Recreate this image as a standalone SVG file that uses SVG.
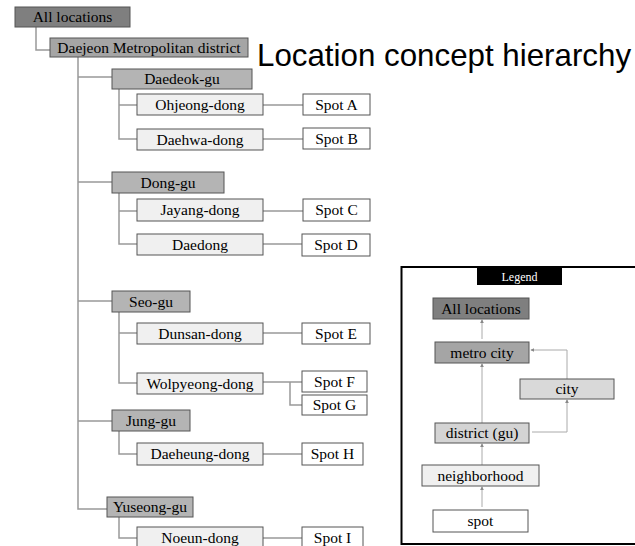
<svg xmlns="http://www.w3.org/2000/svg" width="635" height="546" viewBox="0 0 635 546">
  <defs>
    <style>
      .box { stroke: #555; stroke-width: 1; }
      .l0 { fill: #7f7f7f; }
      .l1 { fill: #a5a5a5; }
      .l2 { fill: #b4b4b4; }
      .l3 { fill: #f0f0f0; }
      .l4 { fill: #ffffff; }
      .city { fill: #d9d9d9; }
      .dist { fill: #d4d4d4; }
      .t { font-family: "Liberation Serif", "Times New Roman", serif; font-size: 15.5px; fill: #000; text-anchor: middle; }
      .wire { fill: none; stroke: #999; stroke-width: 1.5; }
      .arrow { fill: none; stroke: #aaa; stroke-width: 1; marker-end: url(#ah); }
    </style>
    <marker id="ah" viewBox="0 0 6 6" refX="5" refY="3" markerWidth="4" markerHeight="4" orient="auto">
      <path d="M0,0 L6,3 L0,6 z" fill="#888"/>
    </marker>
  </defs>

  <rect width="635" height="546" fill="#fff"/>

  <!-- tree connectors -->
  <g id="connectors">
    <path class="wire" d="M36,27 V50 H50"/>
    <path class="wire" d="M78,57 V509 H107"/>
    <path class="wire" d="M78,77 H112 M78,182 H112 M78,301 H112 M78,421 H112"/>
    <!-- Daedeok-gu -->
    <path class="wire" d="M119,89 V139 H137 M119,105 H137"/>
    <path class="wire" d="M263,105 H303 M263,139 H303"/>
    <!-- Dong-gu -->
    <path class="wire" d="M119,193 V244 H137 M119,211 H137"/>
    <path class="wire" d="M263,211 H303 M263,244 H302"/>
    <!-- Seo-gu -->
    <path class="wire" d="M119,312 V383 H137 M119,333 H137"/>
    <path class="wire" d="M263,333 H302 M263,382 H302 M290,382 V405 H302"/>
    <!-- Jung-gu -->
    <path class="wire" d="M119,431 V454 H137 M263,454 H302"/>
    <!-- Yuseong-gu -->
    <path class="wire" d="M119,517 V538 H137 M263,538 H302"/>
  </g>

  <g id="all-locations"><rect class="box l0" x="15" y="7" width="115" height="20"/><text class="t" x="72.5" y="22">All locations</text></g>
  <g id="daejeon"><rect class="box l1" x="50" y="38" width="198" height="19"/><text class="t" x="149" y="53">Daejeon Metropolitan district</text></g>

  <g id="daedeok-gu"><rect class="box l2" x="112" y="69" width="140" height="20"/><text class="t" x="182" y="84">Daedeok-gu</text></g>
  <g id="ohjeong-dong"><rect class="box l3" x="137" y="94" width="126" height="21"/><text class="t" x="200" y="110">Ohjeong-dong</text></g>
  <g id="daehwa-dong"><rect class="box l3" x="137" y="129" width="126" height="21"/><text class="t" x="200" y="145">Daehwa-dong</text></g>
  <g id="spot-a"><rect class="box l4" x="303" y="94" width="67" height="21"/><text class="t" x="336.5" y="110">Spot A</text></g>
  <g id="spot-b"><rect class="box l4" x="303" y="128" width="67" height="21"/><text class="t" x="336.5" y="144">Spot B</text></g>

  <g id="dong-gu"><rect class="box l2" x="112" y="172" width="112" height="21"/><text class="t" x="168" y="188">Dong-gu</text></g>
  <g id="jayang-dong"><rect class="box l3" x="137" y="199" width="126" height="22"/><text class="t" x="200" y="215">Jayang-dong</text></g>
  <g id="daedong"><rect class="box l3" x="137" y="234" width="126" height="21"/><text class="t" x="200" y="250">Daedong</text></g>
  <g id="spot-c"><rect class="box l4" x="303" y="199" width="67" height="22"/><text class="t" x="336.5" y="215">Spot C</text></g>
  <g id="spot-d"><rect class="box l4" x="302" y="234" width="68" height="22"/><text class="t" x="336" y="250">Spot D</text></g>

  <g id="seo-gu"><rect class="box l2" x="112" y="291" width="78" height="21"/><text class="t" x="151" y="307">Seo-gu</text></g>
  <g id="dunsan-dong"><rect class="box l3" x="137" y="323" width="126" height="21"/><text class="t" x="200" y="339">Dunsan-dong</text></g>
  <g id="wolpyeong-dong"><rect class="box l3" x="137" y="373" width="126" height="21"/><text class="t" x="200" y="389">Wolpyeong-dong</text></g>
  <g id="spot-e"><rect class="box l4" x="302" y="323" width="68" height="21"/><text class="t" x="336" y="339">Spot E</text></g>
  <g id="spot-f"><rect class="box l4" x="302" y="371" width="65" height="21"/><text class="t" x="334.5" y="387">Spot F</text></g>
  <g id="spot-g"><rect class="box l4" x="302" y="395" width="65" height="20"/><text class="t" x="334.5" y="410">Spot G</text></g>

  <g id="jung-gu"><rect class="box l2" x="112" y="410" width="78" height="21"/><text class="t" x="151" y="426">Jung-gu</text></g>
  <g id="daeheung-dong"><rect class="box l3" x="137" y="443" width="126" height="22"/><text class="t" x="200" y="459">Daeheung-dong</text></g>
  <g id="spot-h"><rect class="box l4" x="302" y="443" width="61" height="22"/><text class="t" x="332.5" y="459">Spot H</text></g>

  <g id="yuseong-gu"><rect class="box l2" x="107" y="497" width="86" height="20"/><text class="t" x="150" y="512">Yuseong-gu</text></g>
  <g id="noeun-dong"><rect class="box l3" x="137" y="527" width="126" height="22"/><text class="t" x="200" y="543">Noeun-dong</text></g>
  <g id="spot-i"><rect class="box l4" x="302" y="527" width="61" height="22"/><text class="t" x="332.5" y="543">Spot I</text></g>

  <g id="title"><text x="257" y="66" font-family="Liberation Sans, Arial, sans-serif" font-size="31.3" fill="#000">Location concept hierarchy</text></g>

  <!-- legend panel: frame runs off the right edge -->
  <g id="legend">
    <path d="M640,267 H401.5 V544 H640" fill="#fff" stroke="#000" stroke-width="2"/>
    <rect x="477" y="267" width="85" height="18" fill="#000"/>
    <text x="519.5" y="280.5" font-family="Liberation Serif, serif" font-size="12" fill="#fff" text-anchor="middle">Legend</text>
    <g id="legend-arrows">
      <path class="arrow" d="M482,339 V320"/>
      <path class="arrow" d="M482,423 V364"/>
      <path class="arrow" d="M567,379 V350 H531"/>
      <path class="arrow" d="M532,432 H567 V400"/>
      <path class="arrow" d="M482,465 V444"/>
      <path class="arrow" d="M482,507 V487"/>
    </g>
    <g id="legend-all"><rect class="box l0" x="433" y="298" width="96" height="21"/><text class="t" x="481" y="314">All locations</text></g>
    <g id="legend-metro"><rect class="box l1" x="435" y="342" width="94" height="21"/><text class="t" x="482" y="358">metro city</text></g>
    <g id="legend-city"><rect class="box city" x="520" y="379" width="94" height="20"/><text class="t" x="567" y="394">city</text></g>
    <g id="legend-district"><rect class="box dist" x="435" y="423" width="94" height="20"/><text class="t" x="482" y="438">district (gu)</text></g>
    <g id="legend-neighborhood"><rect class="box l3" x="422" y="465" width="117" height="21"/><text class="t" x="480.5" y="481">neighborhood</text></g>
    <g id="legend-spot"><rect class="box l4" x="433" y="510" width="95" height="22"/><text class="t" x="480.5" y="526">spot</text></g>
  </g>
</svg>
